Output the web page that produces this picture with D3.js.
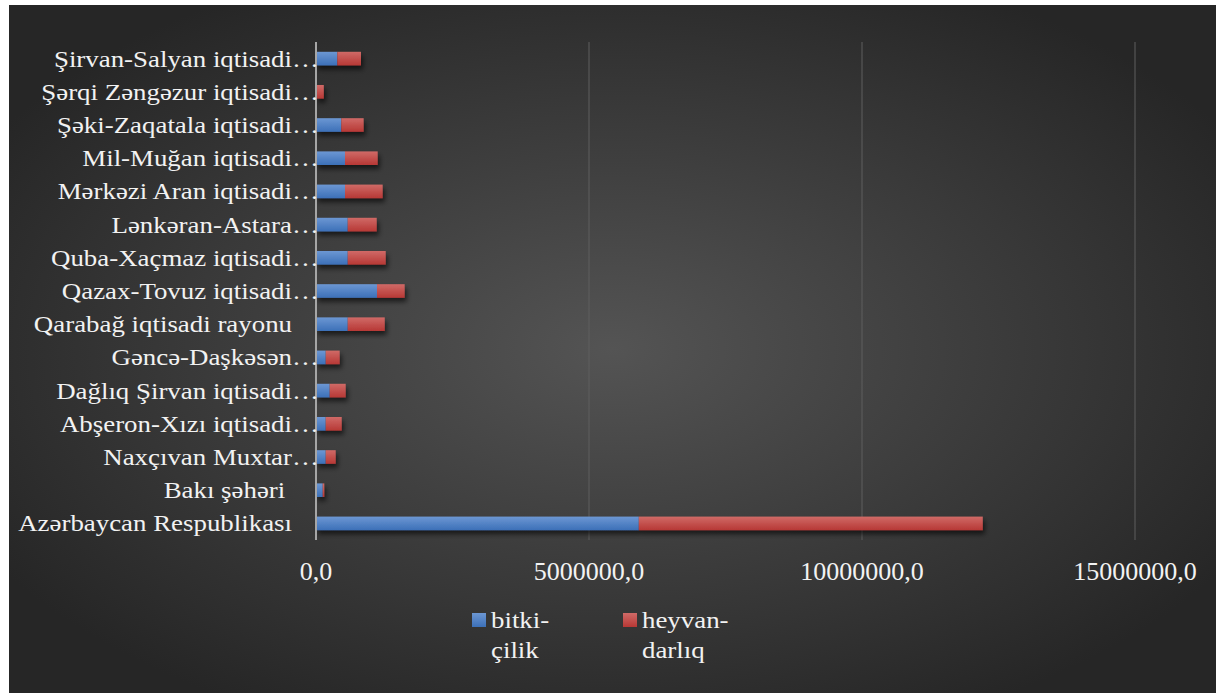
<!DOCTYPE html>
<html>
<head>
<meta charset="utf-8">
<script src="https://cdn.jsdelivr.net/npm/d3@7"></script>
<style>
  body { margin: 0; background: #fff; }
  text { font-family: "Liberation Serif", "Times New Roman", serif; fill: #f2f2f2; }
</style>
</head>
<body>
<svg id="chart"></svg>
<script>
// Data
const regions = [
  "Azərbaycan Respublikası",
  "Bakı şəhəri ",
  "Naxçıvan Muxtar…",
  "Abşeron-Xızı iqtisadi…",
  "Dağlıq Şirvan iqtisadi…",
  "Gəncə-Daşkəsən…",
  "Qarabağ iqtisadi rayonu",
  "Qazax-Tovuz iqtisadi…",
  "Quba-Xaçmaz iqtisadi…",
  "Lənkəran-Astara…",
  "Mərkəzi Aran iqtisadi…",
  "Mil-Muğan iqtisadi…",
  "Şəki-Zaqatala iqtisadi…",
  "Şərqi Zəngəzur iqtisadi…",
  "Şirvan-Salyan iqtisadi…"
];
const bitkicilik = [5912000, 123000, 178000, 178000, 251000, 178000, 581000, 1117000, 581000, 581000, 531000, 531000, 463000, 2000, 390000];
const heyvandarliq = [6300000, 29000, 183000, 293000, 293000, 256000, 678000, 507000, 696000, 531000, 690000, 599000, 410000, 141000, 434000];
const xTicks = [0, 5000000, 10000000, 15000000];
const seriesNames = [["bitki-", "çilik"], ["heyvan-", "darlıq"]];

const W = 1216, H = 693;
const plot = { left: 316, right: 1135, top: 42, bottom: 540 };

const svg = d3.select("#chart").attr("width", W).attr("height", H);
const defs = svg.append("defs");

// Background gradient
const bg = defs.append("radialGradient").attr("id", "bg")
  .attr("cx", "50%").attr("cy", "50%").attr("r", "60%");
bg.append("stop").attr("offset", "0%").attr("stop-color", "#545454");
bg.append("stop").attr("offset", "100%").attr("stop-color", "#262626");

function barGrad(id, top, bottom) {
  const g = defs.append("linearGradient").attr("id", id)
    .attr("x1", 0).attr("y1", 0).attr("x2", 0).attr("y2", 1);
  g.append("stop").attr("offset", "0%").attr("stop-color", top);
  g.append("stop").attr("offset", "100%").attr("stop-color", bottom);
}
barGrad("gBlue", "#6c97d3", "#3c70b8");
barGrad("gRed", "#d06a67", "#b73835");

const shadow = defs.append("filter").attr("id", "shadow")
  .attr("x", "-5%").attr("y", "-30%").attr("width", "115%").attr("height", "190%");
shadow.append("feDropShadow").attr("dx", 2).attr("dy", 4).attr("stdDeviation", 2.5)
  .attr("flood-color", "#000").attr("flood-opacity", 0.6);

svg.append("rect").attr("x", 9).attr("y", 5).attr("width", W - 9).attr("height", H - 5)
  .attr("fill", "url(#bg)");

// Scales
const x = d3.scaleLinear().domain([0, 15000000]).range([plot.left, plot.right]);
const y = d3.scaleBand().domain(regions).range([plot.bottom, plot.top]).paddingInner(0.59).paddingOuter(0.295);

// Gridlines
svg.append("g").selectAll("line").data(xTicks.slice(1)).join("line")
  .attr("x1", d => x(d)).attr("x2", d => x(d))
  .attr("y1", plot.top).attr("y2", plot.bottom)
  .attr("stroke", "#5e5e5e").attr("stroke-width", 1);

// Stacked bars
const rows = regions.map((r, i) => ({ region: r, b: bitkicilik[i], h: heyvandarliq[i] }));
const stack = d3.stack().keys(["b", "h"])(rows);
const fills = ["url(#gBlue)", "url(#gRed)"];

const barsG = svg.append("g").attr("filter", "url(#shadow)");
barsG.selectAll("g").data(stack).join("g")
  .attr("fill", (d, i) => fills[i])
  .selectAll("rect").data(d => d).join("rect")
  .attr("x", d => x(d[0]))
  .attr("y", d => y(d.data.region))
  .attr("width", d => Math.max(0, x(d[1]) - x(d[0])))
  .attr("height", y.bandwidth());

// Vertical axis line
svg.append("line")
  .attr("x1", plot.left).attr("x2", plot.left)
  .attr("y1", plot.top).attr("y2", plot.bottom)
  .attr("stroke", "#a6a6a6").attr("stroke-width", 2);

// Category labels
const labG = svg.append("g");
regions.forEach(r => {
  const cy = y(r) + y.bandwidth() / 2 + 8;
  const trunc = r.endsWith("…");
  const t = labG.append("text")
    .attr("transform", `translate(292,${cy}) scale(1.12,1)`)
    .attr("text-anchor", "end")
    .attr("font-size", 24)
    .attr("xml:space", "preserve")
    .text(trunc ? r.slice(0, -1) : r);
  if (trunc) {
    labG.append("text")
      .attr("transform", `translate(292,${cy}) scale(1.12,1)`)
      .attr("font-size", 24)
      .text("…");
  }
});

// X tick labels
const fmt = d => d3.format(".1f")(d).replace(".", ",");
svg.append("g").selectAll("text").data(xTicks).join("text")
  .attr("x", d => x(d)).attr("y", 580)
  .attr("text-anchor", "middle")
  .attr("font-size", 26)
  .text(fmt);

// Legend
const legend = svg.append("g");
const legX = [472, 623];
seriesNames.forEach((lines, i) => {
  legend.append("rect")
    .attr("x", legX[i]).attr("y", 613).attr("width", 14).attr("height", 14)
    .attr("fill", fills[i]);
  lines.forEach((ln, j) => {
    legend.append("text")
      .attr("transform", `translate(${legX[i] + 19},${628 + j * 30}) scale(1.12,1)`)
      .attr("font-size", 24)
      .text(ln);
  });
});
</script>
</body>
</html>
